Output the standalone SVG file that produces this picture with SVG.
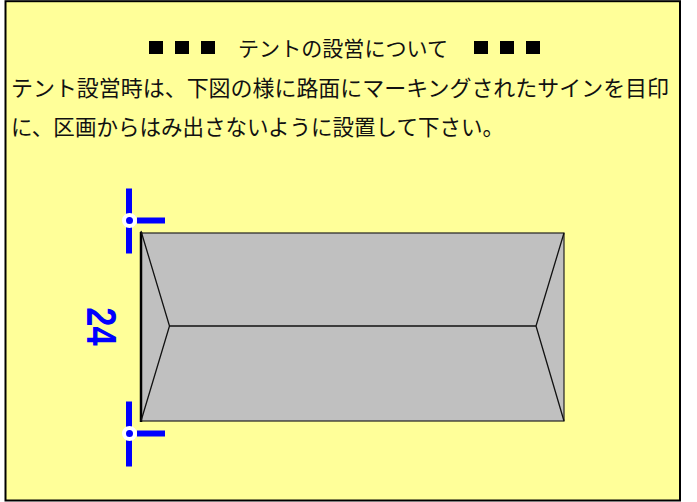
<svg xmlns="http://www.w3.org/2000/svg" width="697" height="502" viewBox="0 0 697 502">
<style>
text{font-family:"Noto Sans CJK JP","Noto Sans CJK SC",sans-serif;fill:#111}
.t{font-size:21.900px}
.ln{stroke:#111;stroke-width:1.3;fill:none}
.bl{stroke:#00f;stroke-width:6;fill:none}
</style>
<rect width="697" height="502" fill="#fff"/>
<rect x="5.500" y="1.200" width="674.500" height="499.300" fill="#ffff99" stroke="#000" stroke-width="2"/>
<g id="caption">
<rect x="149" y="41" width="14" height="13" fill="#000"/><rect x="175" y="41" width="14" height="13" fill="#000"/><rect x="201" y="41" width="14" height="13" fill="#000"/>
<text x="238" y="56" font-size="21" textLength="210" lengthAdjust="spacingAndGlyphs">テントの設営について</text>
<rect x="474" y="41" width="14" height="13" fill="#000"/><rect x="500" y="41" width="14" height="13" fill="#000"/><rect x="526" y="41" width="14" height="13" fill="#000"/>
</g>
<g id="body">
<text class="t" x="11" y="96" textLength="658" lengthAdjust="spacingAndGlyphs">テント設営時は、下図の様に路面にマーキングされたサインを目印</text>
<text class="t" x="11" y="135" textLength="493" lengthAdjust="spacingAndGlyphs">に、区画からはみ出さないように設置して下さい。</text>
</g>
<g id="tent">
<rect x="141" y="233" width="423" height="188" fill="#c0c0c0" stroke="#222" stroke-width="1.200"/>
<line x1="141" y1="232" x2="141" y2="422" stroke="#000" stroke-width="2.500"/>
<path class="ln" d="M141 231L169.500 326L141 421M564 233L536 326L564 421M169.500 326H536"/>
</g>
<g id="marker-top">
<path class="bl" d="M129 188.500V253.500M137 220.500H165"/>
<circle cx="129.500" cy="220.500" r="5.500" fill="#00f" stroke="#fff" stroke-width="4"/>
</g>
<g id="marker-bottom">
<path class="bl" d="M129 401.500V466.500M137 433.500H165"/>
<circle cx="129.500" cy="433.500" r="5.500" fill="#00f" stroke="#fff" stroke-width="4"/>
</g>
<g id="label">
<text transform="translate(87 326.500) rotate(90) scale(1 1.220)" text-anchor="middle" font-size="34.500" style="font-family:'Liberation Sans',sans-serif;font-weight:bold;fill:#00f">24</text>
</g>
</svg>
